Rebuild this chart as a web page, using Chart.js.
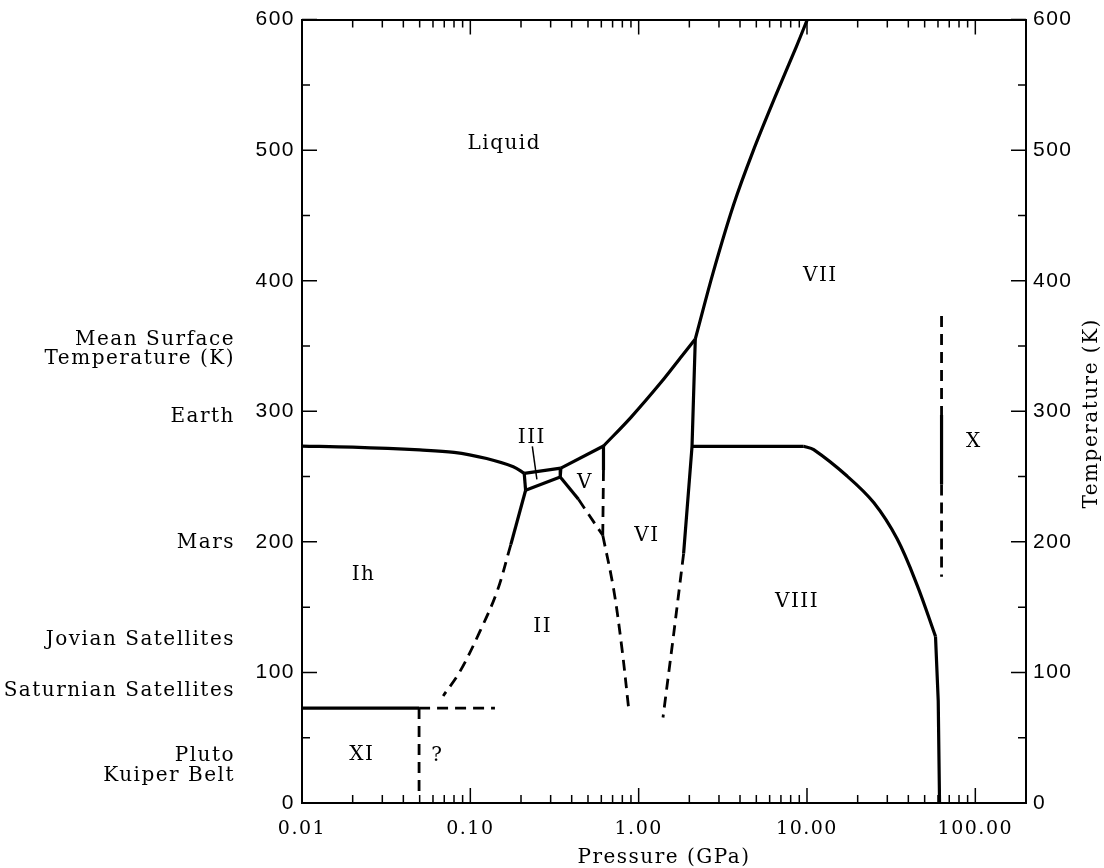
<!DOCTYPE html>
<html>
<head>
<meta charset="utf-8">
<title>Phase diagram of water ice</title>
<script src="https://cdn.jsdelivr.net/npm/chart.js@4.4.1/dist/chart.umd.min.js"></script>
<style>
  html, body { margin: 0; padding: 0; background: #fff; }
  canvas { display: block; }
</style>
</head>
<body>
<canvas id="phaseChart" width="1104" height="868"></canvas>
<script>
// axis ticks
const pressureTicks = [0.01, 0.1, 1, 10, 100];
const temperatureTicks = [0, 100, 200, 300, 400, 500, 600];

// phase boundaries, [pressure GPa, temperature K]
const ihLiquid = [[0.01, 273.4], [0.02, 272.5], [0.05, 270.4], [0.08, 268.6], [0.125, 263.8], [0.18, 257.5], [0.209, 252.5]];
const ihIII = [[0.209, 252.5], [0.213, 239.5]];
const iiiLiquid = [[0.209, 252.5], [0.345, 256.5]];
const iiiII = [[0.213, 239.5], [0.342, 249.6]];
const iiiV = [[0.345, 256.5], [0.342, 249.6]];
const vLiquid = [[0.345, 256.5], [0.618, 273.4]];
const viLiquid = [[0.618, 273.4], [0.90, 295.4], [1.355, 322], [1.816, 342.8], [2.17, 355.4]];
const viiLiquid = [[2.17, 355.4], [2.78, 407], [3.66, 458], [4.76, 498.5], [6.5, 541.5], [8.66, 579.5], [10.04, 600]];
const ihIISolid = [[0.213, 239.5], [0.174, 197.9]];
const ihIIDashed = [[0.174, 197.9], [0.144, 161.8], [0.114, 131.4], [0.087, 101], [0.069, 82]];
const iiVSolid = [[0.342, 249.6], [0.439, 232.6]];
const iiVDashed = [[0.439, 232.6], [0.612, 205]];
const vViSolid = [[0.618, 273.4], [0.618, 255]];
const vViDashed = [[0.618, 255], [0.612, 205]];
const iiVi = [[0.612, 205], [0.709, 164.3], [0.795, 118.7], [0.871, 73]];
const viVii = [[2.17, 355.4], [2.075, 273.2], [1.849, 190.9]];
const viViii = [[1.849, 190.9], [1.613, 128.9], [1.395, 65.5]];
const viiViiiFlat = [[2.075, 273.2], [9.56, 273.2]];
const viiViiiCurve = [[9.56, 273.2], [10.96, 270.6], [17.3, 250.4], [24.9, 230.1], [34.3, 202.3], [45.1, 166.9], [58, 127.6]];
const viiiX = [[58, 127.6], [60.2, 78.2], [61.3, 0]];
const xDashedTop = [[63, 373], [63, 297.2]];
const xSolid = [[63, 297.2], [63, 244]];
const xDashedBottom = [[63, 244], [63, 173.2]];
const xiIhSolid = [[0.01, 72.7], [0.0496, 72.7]];
const xiIhDashed = [[0.0496, 72.7], [0.14, 72.7]];
const xiDashedV = [[0.0496, 72.7], [0.0496, 8]];
const iiiPointer = [[0.2335, 273.2], [0.2485, 247.9]];

// phase names inside the plot
const regionNames = ["Liquid", "Ih", "II", "III", "V", "VI", "VII", "VIII", "X", "XI", "?"];
const regionP = [0.159, 0.0232, 0.269, 0.232, 0.48, 1.12, 12.0, 8.73, 98, 0.0227, 0.0637];
const regionT = [505, 175, 135, 279.5, 245, 205, 403.5, 154, 277, 37, 36];

// bodies on the left side
const bodyNames = ["Mean Surface", "Temperature (K)", "Earth", "Mars", "Jovian Satellites", "Saturnian Satellites", "Pluto", "Kuiper Belt"];
const bodyT = [355, 340, 296, 199, 125, 86, 36, 21];

const serif = "'DejaVu Serif', 'Liberation Serif', serif";
const sans = "'Liberation Sans', Arial, sans-serif";

const datasets = [];
function addLine(arr, dashed, smooth, width) {
  datasets.push({
    data: arr.map(([p, t]) => ({ x: p, y: t })),
    borderColor: "#000",
    borderWidth: width || (dashed ? 2.8 : 3.2),
    borderDash: dashed ? [11, 7] : [],
    tension: smooth ? 0.35 : 0,
    pointRadius: 0,
    showLine: true,
    fill: false,
  });
}

addLine(ihLiquid, false, true);
addLine(ihIII, false, false);
addLine(iiiLiquid, false, false);
addLine(iiiII, false, false);
addLine(iiiV, false, false);
addLine(vLiquid, false, false);
addLine(viLiquid, false, true);
addLine(viiLiquid, false, true);
addLine(ihIISolid, false, false);
addLine(ihIIDashed, true, true);
addLine(iiVSolid, false, false);
addLine(iiVDashed, true, false);
addLine(vViSolid, false, false);
addLine(vViDashed, true, false);
addLine(iiVi, true, true);
addLine(viVii, false, false);
addLine(viViii, true, false);
addLine(viiViiiFlat, false, false);
addLine(viiViiiCurve, false, true);
addLine(viiiX, false, false);
addLine(xDashedTop, true, false);
addLine(xSolid, false, false);
addLine(xDashedBottom, true, false);
addLine(xiIhSolid, false, false);
addLine(xiIhDashed, true, false);
addLine(xiDashedV, true, false);
addLine(iiiPointer, false, false, 1.5);

// letter spacing for the wide typewriter-like text
const spacingPlugin = {
  id: "spacing",
  beforeDraw(chart) {
    chart.ctx.letterSpacing = "1.5px";
  },
};

// inward major / minor tick marks on all four sides
const tickMarks = {
  id: "tickMarks",
  afterDraw(chart) {
    const { ctx, chartArea: a } = chart;
    const xs = chart.scales.x;
    const ys = chart.scales.y;
    ctx.save();
    ctx.strokeStyle = "#000";
    ctx.lineWidth = 1.5;
    ctx.beginPath();
    pressureTicks.forEach((d) => {
      for (let m = 1; m < 10; m++) {
        const v = d * m;
        if (v >= 200) continue;
        const px = xs.getPixelForValue(v);
        const len = m === 1 ? 15 : 8;
        ctx.moveTo(px, a.bottom);
        ctx.lineTo(px, a.bottom - len);
        ctx.moveTo(px, a.top);
        ctx.lineTo(px, a.top + len);
      }
    });
    for (let t = 0; t <= 600; t += 50) {
      const py = ys.getPixelForValue(t);
      const len = t % 100 === 0 ? 15 : 8;
      ctx.moveTo(a.left, py);
      ctx.lineTo(a.left + len, py);
      ctx.moveTo(a.right, py);
      ctx.lineTo(a.right - len, py);
    }
    ctx.stroke();
    ctx.restore();
  },
};

// phase names, body names and right axis title
const textLabels = {
  id: "textLabels",
  afterDraw(chart) {
    const { ctx, chartArea: a } = chart;
    const xs = chart.scales.x;
    const ys = chart.scales.y;
    ctx.save();
    ctx.fillStyle = "#000";
    ctx.letterSpacing = "1.5px";
    ctx.textBaseline = "middle";

    ctx.font = `20px ${serif}`;
    ctx.textAlign = "center";
    regionNames.forEach((name, i) => {
      ctx.fillText(name, xs.getPixelForValue(regionP[i]), ys.getPixelForValue(regionT[i]));
    });

    ctx.font = `20px ${serif}`;
    ctx.textAlign = "right";
    bodyNames.forEach((name, i) => {
      ctx.fillText(name, 235, ys.getPixelForValue(bodyT[i]));
    });

    ctx.translate(1092, (a.top + a.bottom) / 2 + 2);
    ctx.rotate(-Math.PI / 2);
    ctx.textAlign = "center";
    ctx.fillText("Temperature (K)", 0, 0);
    ctx.restore();
  },
};

const ctx = document.getElementById("phaseChart").getContext("2d");
const phaseChart = new Chart(ctx, {
  type: "scatter",
  data: { datasets },
  options: {
    responsive: false,
    animation: false,
    devicePixelRatio: 1,
    layout: { padding: 0 },
    plugins: {
      legend: { display: false },
      tooltip: { enabled: false },
    },
    scales: {
      x: {
        type: "logarithmic",
        position: "bottom",
        min: 0.01,
        max: 200,
        afterBuildTicks: (s) => {
          s.ticks = pressureTicks.map((v) => ({ value: v }));
        },
        afterFit: (s) => {
          s.height = 65;
        },
        grid: { display: false, drawTicks: false },
        border: { display: true, color: "#000", width: 2 },
        ticks: {
          color: "#000",
          font: { family: serif, size: 19 },
          padding: 15,
          maxRotation: 0,
          autoSkip: false,
          callback: (v) => Number(v).toFixed(2),
        },
        title: {
          display: true,
          text: "Pressure (GPa)",
          color: "#000",
          font: { family: serif, size: 20, lineHeight: 1 },
          padding: { top: 0, bottom: 0 },
        },
      },
      xTop: {
        type: "logarithmic",
        position: "top",
        min: 0.01,
        max: 200,
        afterFit: (s) => {
          s.height = 13;
        },
        grid: { display: false, drawTicks: false },
        border: { display: true, color: "#000", width: 2 },
        ticks: { display: false },
      },
      y: {
        position: "left",
        min: 0,
        max: 600,
        afterBuildTicks: (s) => {
          s.ticks = temperatureTicks.map((v) => ({ value: v }));
        },
        afterFit: (s) => {
          s.width = 302;
        },
        grid: { display: false, drawTicks: false },
        border: { display: true, color: "#000", width: 2 },
        ticks: { color: "#000", font: { family: sans, size: 21 }, padding: 7 },
      },
      yRight: {
        position: "right",
        min: 0,
        max: 600,
        afterBuildTicks: (s) => {
          s.ticks = temperatureTicks.map((v) => ({ value: v }));
        },
        afterFit: (s) => {
          s.width = 78;
        },
        grid: { display: false, drawTicks: false },
        border: { display: true, color: "#000", width: 2 },
        ticks: { color: "#000", font: { family: sans, size: 21 }, padding: 7 },
      },
    },
  },
  plugins: [spacingPlugin, tickMarks, textLabels],
});
</script>
</body>
</html>
